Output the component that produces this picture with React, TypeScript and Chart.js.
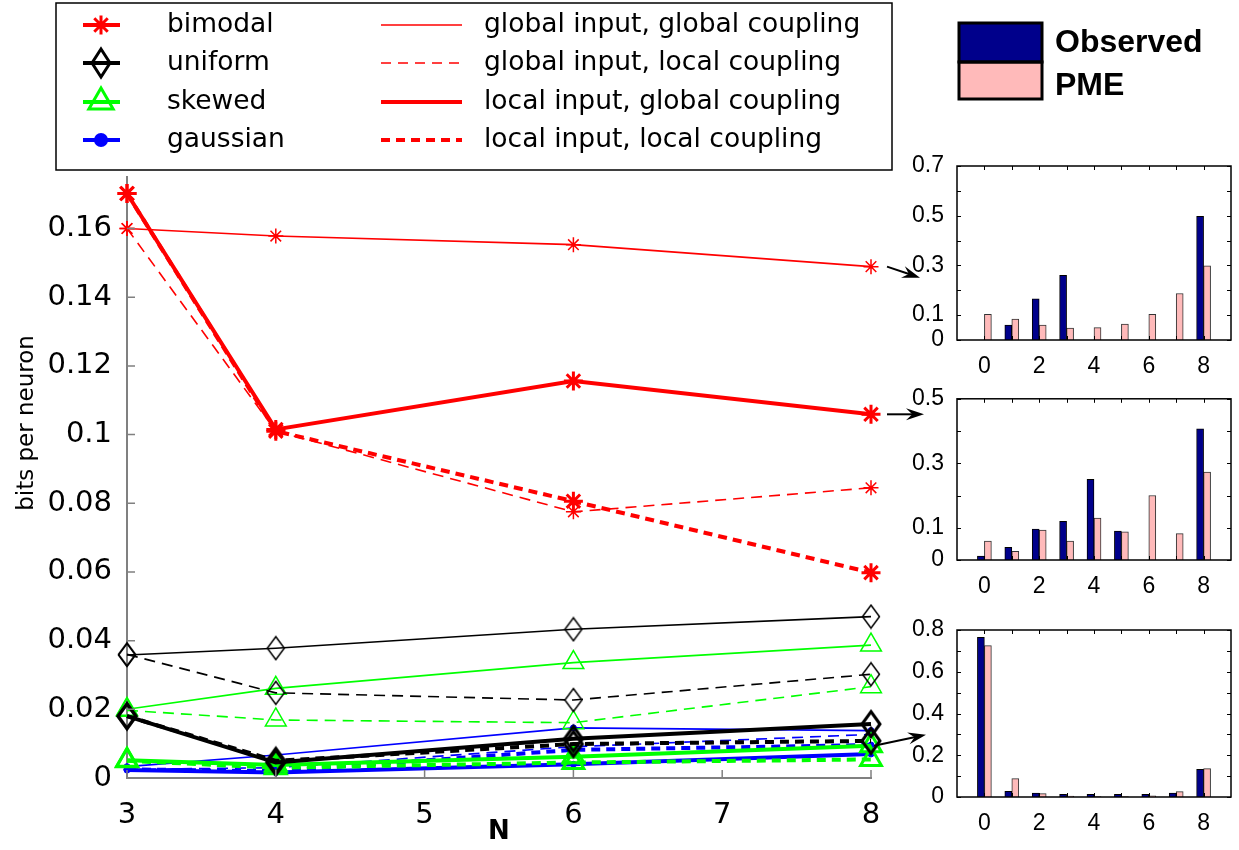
import React, { useEffect, useRef } from 'react';
import { Chart, registerables } from 'chart.js';
Chart.register(...registerables);

// ---------- main chart data (x = N) ----------
const N_VALUES = [3, 4, 6, 8];
const bimodalGG = [0.16, 0.1578, 0.1553, 0.1489];
const bimodalGL = [0.16, 0.101, 0.0775, 0.0845];
const bimodalLG = [0.1702, 0.1015, 0.1156, 0.1059];
const bimodalLL = [0.1702, 0.101, 0.0806, 0.0598];
const uniformGG = [0.0358, 0.0378, 0.0433, 0.047];
const uniformGL = [0.036, 0.0248, 0.0227, 0.0302];
const uniformLG = [0.018, 0.0045, 0.0114, 0.0157];
const uniformLL = [0.018, 0.005, 0.0099, 0.0108];
const skewedGG = [0.02, 0.0261, 0.0336, 0.0387];
const skewedGL = [0.0197, 0.0169, 0.0161, 0.0266];
const skewedLG = [0.0052, 0.0038, 0.0062, 0.0094];
const skewedLL = [0.005, 0.003, 0.0045, 0.0054];
const gaussianGG = [0.0033, 0.0067, 0.0146, 0.0138];
const gaussianGL = [0.0025, 0.003, 0.0091, 0.0127];
const gaussianLG = [0.0023, 0.0016, 0.004, 0.007];
const gaussianLL = [0.0025, 0.002, 0.0082, 0.0096];
const Y_TICKS_MAIN = [0, 0.02, 0.04, 0.06, 0.08, 0.1, 0.12, 0.14, 0.16];

const DISTRIBUTIONS = ['bimodal', 'uniform', 'skewed', 'gaussian'];
const CONDITIONS = [
  'global input, global coupling',
  'global input, local coupling',
  'local input, global coupling',
  'local input, local coupling',
];
const Y_TITLE = 'bits per neuron';

// ---------- inset bar chart data (x = number of active neurons) ----------
const BINS = [0, 1, 2, 3, 4, 5, 6, 7, 8];
const observed1 = [0, 0.06, 0.166, 0.26, 0, 0, 0, 0, 0.498];
const pme1 = [0.103, 0.084, 0.06, 0.048, 0.05, 0.064, 0.103, 0.187, 0.298];
const observed2 = [0.012, 0.039, 0.096, 0.12, 0.25, 0.09, 0, 0, 0.407];
const pme2 = [0.059, 0.027, 0.093, 0.059, 0.13, 0.087, 0.2, 0.082, 0.273];
const observed3 = [0.765, 0.027, 0.019, 0.013, 0.013, 0.013, 0.013, 0.019, 0.133];
const pme3 = [0.725, 0.088, 0.016, 0.005, 0.002, 0.002, 0.006, 0.026, 0.136];
const labels1 = [0, 0.1, 0.3, 0.5, 0.7];
const labels2 = [0, 0.1, 0.3, 0.5];
const labels3 = [0, 0.2, 0.4, 0.6, 0.8];
const X_LABELS_BAR = [0, 2, 4, 6, 8];

const FONT = "'DejaVu Sans', sans-serif";
const BAR_FONT = "'Liberation Sans', Arial, sans-serif";
const OBS_COLOR = '#00008b';
const PME_COLOR = '#ffbaba';

const COLORS: Record<string, string> = {
  bimodal: '#ff0000',
  uniform: '#000000',
  skewed: '#00ff00',
  gaussian: '#0000ff',
};

function makeDiamond(w: number, h: number, lw: number, color: string) {
  const c = document.createElement('canvas');
  c.width = Math.ceil(w + lw * 2);
  c.height = Math.ceil(h + lw * 2);
  const ctx = c.getContext('2d')!;
  ctx.strokeStyle = color;
  ctx.lineWidth = lw;
  ctx.lineJoin = 'miter';
  const cx = c.width / 2, cy = c.height / 2;
  ctx.beginPath();
  ctx.moveTo(cx, cy - h / 2);
  ctx.lineTo(cx + w / 2, cy);
  ctx.lineTo(cx, cy + h / 2);
  ctx.lineTo(cx - w / 2, cy);
  ctx.closePath();
  ctx.stroke();
  return c;
}

function drawMarker(ctx: CanvasRenderingContext2D, kind: string, x: number, y: number, color: string, thick: boolean) {
  ctx.save();
  ctx.strokeStyle = color;
  ctx.fillStyle = color;
  ctx.lineWidth = thick ? 3 : 1.5;
  if (kind === 'bimodal') {
    const r = thick ? 9.5 : 7.5;
    ctx.beginPath();
    for (let i = 0; i < 4; i++) {
      const a = (i * Math.PI) / 4;
      ctx.moveTo(x - r * Math.cos(a), y - r * Math.sin(a));
      ctx.lineTo(x + r * Math.cos(a), y + r * Math.sin(a));
    }
    ctx.stroke();
  } else if (kind === 'uniform') {
    const w = 18, h = 28;
    ctx.beginPath();
    ctx.moveTo(x, y - h / 2);
    ctx.lineTo(x + w / 2, y);
    ctx.lineTo(x, y + h / 2);
    ctx.lineTo(x - w / 2, y);
    ctx.closePath();
    ctx.stroke();
  } else if (kind === 'skewed') {
    const r = 14;
    ctx.beginPath();
    ctx.moveTo(x, y - r);
    ctx.lineTo(x + 0.866 * r, y + 0.5 * r);
    ctx.lineTo(x - 0.866 * r, y + 0.5 * r);
    ctx.closePath();
    ctx.stroke();
  } else {
    ctx.beginPath();
    ctx.arc(x, y, 7, 0, Math.PI * 2);
    ctx.fill();
  }
  ctx.restore();
}

function arrow(ctx: CanvasRenderingContext2D, x1: number, y1: number, x2: number, y2: number) {
  const a = Math.atan2(y2 - y1, x2 - x1);
  const L = 18, W = 6;
  ctx.save();
  ctx.strokeStyle = '#000';
  ctx.fillStyle = '#000';
  ctx.lineWidth = 2;
  ctx.beginPath();
  ctx.moveTo(x1, y1);
  ctx.lineTo(x2 - L * 0.6 * Math.cos(a), y2 - L * 0.6 * Math.sin(a));
  ctx.stroke();
  ctx.beginPath();
  ctx.moveTo(x2, y2);
  ctx.lineTo(x2 - L * Math.cos(a) - W * Math.sin(a), y2 - L * Math.sin(a) + W * Math.cos(a));
  ctx.lineTo(x2 - L * 0.65 * Math.cos(a), y2 - L * 0.65 * Math.sin(a));
  ctx.lineTo(x2 - L * Math.cos(a) + W * Math.sin(a), y2 - L * Math.sin(a) - W * Math.cos(a));
  ctx.closePath();
  ctx.fill();
  ctx.restore();
}

const mainDecor = {
  id: 'mainDecor',
  afterDraw(chart: any) {
    const ctx: CanvasRenderingContext2D = chart.ctx;
    const xs = chart.scales.x, ys = chart.scales.y;
    const { left, bottom } = chart.chartArea;
    // inward tick marks
    ctx.save();
    ctx.strokeStyle = '#808080';
    ctx.lineWidth = 1.5;
    ctx.beginPath();
    for (const t of Y_TICKS_MAIN) {
      const py = ys.getPixelForValue(t);
      ctx.moveTo(left, py);
      ctx.lineTo(left + 8, py);
    }
    for (let n = 3; n <= 8; n++) {
      const px = xs.getPixelForValue(n);
      ctx.moveTo(px, bottom);
      ctx.lineTo(px, bottom - 8);
    }
    ctx.stroke();
    ctx.restore();

    // y axis title
    ctx.save();
    ctx.translate(27, 423);
    ctx.rotate(-Math.PI / 2);
    ctx.font = `23px ${FONT}`;
    ctx.fillStyle = '#000';
    ctx.textAlign = 'center';
    ctx.textBaseline = 'middle';
    ctx.fillText(Y_TITLE, 0, 0);
    ctx.restore();

    // legend box
    ctx.save();
    ctx.fillStyle = '#fff';
    ctx.fillRect(56, 3, 836, 167);
    ctx.strokeStyle = '#000';
    ctx.lineWidth = 1.5;
    ctx.strokeRect(56, 3, 836, 167);
    const rows = [25, 63, 102, 140];
    ctx.font = `26.5px ${FONT}`;
    ctx.textBaseline = 'middle';
    ctx.textAlign = 'left';
    DISTRIBUTIONS.forEach((d, i) => {
      const y = rows[i];
      const c = COLORS[d];
      ctx.strokeStyle = c;
      ctx.lineWidth = 4;
      ctx.beginPath();
      ctx.moveTo(83, y);
      ctx.lineTo(120, y);
      ctx.stroke();
      drawMarker(ctx, d, 101, y, c, true);
      ctx.fillStyle = '#000';
      ctx.fillText(d, 167, y);
    });
    CONDITIONS.forEach((label, i) => {
      const y = rows[i];
      ctx.strokeStyle = '#ff0000';
      ctx.lineWidth = i < 2 ? 1.5 : 4;
      ctx.setLineDash(i % 2 === 1 ? (i < 2 ? [10, 7] : [9, 6]) : []);
      ctx.beginPath();
      ctx.moveTo(381, y);
      ctx.lineTo(462, y);
      ctx.stroke();
      ctx.setLineDash([]);
      ctx.fillStyle = '#000';
      ctx.fillText(label, 484, y);
    });
    ctx.restore();

    // arrows to the insets
    const x8 = xs.getPixelForValue(8);
    const yA = ys.getPixelForValue(bimodalGG[3]);
    arrow(ctx, x8 + 16, yA, x8 + 49, yA + 11);
    const yB = ys.getPixelForValue(bimodalLG[3]);
    arrow(ctx, x8 + 16, yB, x8 + 53, yB);
    const yC = ys.getPixelForValue(skewedLG[3]);
    arrow(ctx, x8 + 3, yC, x8 + 55, yC - 11);
  },
};

const barDecor = (showLegend: boolean) => ({
  id: 'barDecor',
  afterDraw(chart: any) {
    const ctx: CanvasRenderingContext2D = chart.ctx;
    const { left, right, top, bottom } = chart.chartArea;
    const xs = chart.scales.x, ys = chart.scales.y;
    ctx.save();
    ctx.strokeStyle = '#000';
    ctx.lineWidth = 1;
    ctx.beginPath();
    for (const t of ys.ticks) {
      const py = Math.round(ys.getPixelForValue(t.value)) + 0.5;
      ctx.moveTo(left, py);
      ctx.lineTo(left + 4, py);
      ctx.moveTo(right, py);
      ctx.lineTo(right - 4, py);
    }
    for (const b of BINS) {
      const px = Math.round(xs.getPixelForValue(b)) + 0.5;
      ctx.moveTo(px, top);
      ctx.lineTo(px, top + 4);
      ctx.moveTo(px, bottom);
      ctx.lineTo(px, bottom - 4);
    }
    ctx.stroke();
    ctx.lineWidth = 1.5;
    ctx.strokeRect(left, top, right - left, bottom - top);
    if (showLegend) {
      ctx.lineWidth = 3;
      ctx.fillStyle = OBS_COLOR;
      ctx.fillRect(79, 23, 83, 39);
      ctx.fillStyle = PME_COLOR;
      ctx.fillRect(79, 62, 83, 37);
      ctx.strokeRect(79, 23, 83, 39);
      ctx.strokeRect(79, 62, 83, 37);
      ctx.fillStyle = '#000';
      ctx.font = `bold 32px ${BAR_FONT}`;
      ctx.textBaseline = 'middle';
      ctx.fillText('Observed', 175, 43);
      ctx.fillText('PME', 175, 86);
    }
    ctx.restore();
  },
});

function makeBarConfig(obs: number[], pme: number[], yMax: number, yLabels: number[], padTop: number, xHeight: number, legend: boolean) {
  return {
    type: 'bar',
    data: {
      datasets: [
        {
          label: 'Observed',
          data: BINS.map((b, i) => ({ x: b, y: obs[i] })),
          backgroundColor: OBS_COLOR,
          borderColor: '#000',
          borderWidth: 1,
          barThickness: 7,
        },
        {
          label: 'PME',
          data: BINS.map((b, i) => ({ x: b, y: pme[i] })),
          backgroundColor: PME_COLOR,
          borderColor: '#333',
          borderWidth: 1,
          barThickness: 7,
        },
      ],
    },
    options: {
      animation: false,
      responsive: false,
      maintainAspectRatio: false,
      layout: { padding: { left: 0, top: padTop, right: 8, bottom: 0 } },
      plugins: { legend: { display: false }, tooltip: { enabled: false } },
      scales: {
        x: {
          type: 'linear',
          min: -1,
          max: 9,
          offset: false,
          ticks: {
            stepSize: 1,
            autoSkip: false,
            maxRotation: 0,
            color: '#000',
            padding: 5,
            font: { size: 23, family: BAR_FONT },
            callback: (v: number) => (X_LABELS_BAR.includes(Math.round(v)) ? String(Math.round(v)) : ''),
          },
          grid: { display: false },
          border: { display: false },
          afterFit: (s: any) => { s.height = xHeight; },
        },
        y: {
          type: 'linear',
          min: 0,
          max: yMax,
          ticks: {
            stepSize: 0.1,
            autoSkip: false,
            color: '#000',
            padding: 5,
            font: { size: 23, family: BAR_FONT },
            callback: (v: number) => {
              const r = Math.round(v * 10) / 10;
              return yLabels.some((l) => Math.abs(l - r) < 1e-6) ? String(r) : '';
            },
          },
          grid: { display: false },
          border: { display: false },
          afterFit: (s: any) => { s.width = 77; },
        },
      },
    },
    plugins: [barDecor(legend)],
  };
}

function MainChart() {
  const ref = useRef<HTMLCanvasElement>(null);
  useEffect(() => {
    const groups: Record<string, number[][]> = {
      bimodal: [bimodalGG, bimodalGL, bimodalLG, bimodalLL],
      uniform: [uniformGG, uniformGL, uniformLG, uniformLL],
      skewed: [skewedGG, skewedGL, skewedLG, skewedLL],
      gaussian: [gaussianGG, gaussianGL, gaussianLG, gaussianLL],
    };
    const diamondThin = makeDiamond(17, 23, 1.5, '#000');
    const diamondThick = makeDiamond(18, 25, 3, '#000');
    const datasets: any[] = [];
    DISTRIBUTIONS.forEach((d) => {
      const color = COLORS[d];
      groups[d].forEach((vals, ci) => {
        const thick = ci >= 2;
        const dashed = ci % 2 === 1;
        let pointStyle: any = 'circle';
        let radius = 3.5;
        let pbw = thick ? 3 : 1.5;
        let pbg: string = 'rgba(0,0,0,0)';
        if (d === 'bimodal') { pointStyle = 'star'; radius = thick ? 9.5 : 7.5; }
        else if (d === 'uniform') { pointStyle = thick ? diamondThick : diamondThin; radius = 12; }
        else if (d === 'skewed') { pointStyle = 'triangle'; radius = 12; }
        else { pointStyle = 'circle'; radius = 3; pbg = color; pbw = 1; }
        datasets.push({
          label: `${d}, ${CONDITIONS[ci]}`,
          data: N_VALUES.map((n, i) => ({ x: n, y: vals[i] })),
          borderColor: color,
          backgroundColor: color,
          borderWidth: thick ? 4 : 1.6,
          borderDash: dashed ? (thick ? [9, 6] : [11, 7]) : [],
          pointStyle,
          pointRadius: radius,
          pointBorderWidth: pbw,
          pointBorderColor: color,
          pointBackgroundColor: pbg,
          tension: 0,
          clip: false,
        });
      });
    });
    const chart = new Chart(ref.current!, {
      type: 'line',
      data: { datasets },
      options: {
        animation: false,
        responsive: false,
        maintainAspectRatio: false,
        layout: { padding: { left: 0, top: 177, right: 69, bottom: 0 } },
        plugins: { legend: { display: false }, tooltip: { enabled: false } },
        scales: {
          x: {
            type: 'linear',
            min: 3,
            max: 8,
            ticks: { stepSize: 1, color: '#000', padding: 12, font: { size: 29, family: FONT } },
            grid: { display: false },
            border: { display: true, color: '#808080', width: 2 },
            title: { display: true, text: 'N', color: '#000', font: { size: 26, weight: 'bold', family: FONT }, padding: { top: 0, bottom: 2 } },
            afterFit: (s: any) => { s.height = 72; },
          },
          y: {
            type: 'linear',
            min: 0,
            max: 0.175,
            afterBuildTicks: (s: any) => { s.ticks = Y_TICKS_MAIN.map((v) => ({ value: v })); },
            ticks: {
              color: '#000',
              padding: 7,
              font: { size: 29, family: FONT },
              callback: (v: number) => String(Number(v.toFixed(2))),
            },
            grid: { display: false },
            border: { display: true, color: '#808080', width: 2 },
            title: { display: false },
            afterFit: (s: any) => { s.width = 127; },
          },
        },
      } as any,
      plugins: [mainDecor],
    } as any);
    return () => chart.destroy();
  }, []);
  return <canvas ref={ref} width={940} height={850} style={{ position: 'absolute', left: 0, top: 0, width: 940, height: 850 }} />;
}

function BarChart(props: { cfg: () => any; top: number; height: number }) {
  const ref = useRef<HTMLCanvasElement>(null);
  useEffect(() => {
    const chart = new Chart(ref.current!, props.cfg() as any);
    return () => chart.destroy();
  }, []);
  return (
    <canvas
      ref={ref}
      width={359}
      height={props.height}
      style={{ position: 'absolute', left: 880, top: props.top, width: 359, height: props.height }}
    />
  );
}

export default function App() {
  return (
    <div style={{ position: 'fixed', left: 0, top: 0, width: 1239, height: 850, background: '#fff', overflow: 'hidden' }}>
      <MainChart />
      <BarChart top={0} height={380} cfg={() => makeBarConfig(observed1, pme1, 0.7, labels1, 166, 40, true)} />
      <BarChart top={380} height={220} cfg={() => makeBarConfig(observed2, pme2, 0.5, labels2, 13, 40, false)} />
      <BarChart top={600} height={250} cfg={() => makeBarConfig(observed3, pme3, 0.8, labels3, 30, 53, false)} />
    </div>
  );
}
